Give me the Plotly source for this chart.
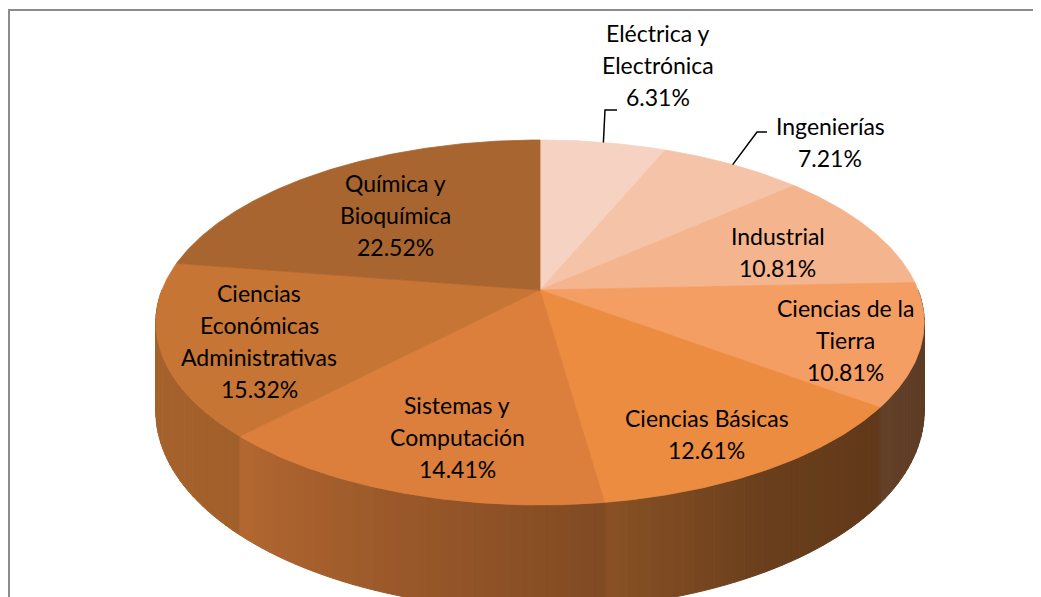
import numpy as np
import plotly.graph_objects as go

# ---------------- data ----------------
categories = ["Eléctrica y<br>Electrónica", "Ingenierías", "Industrial", "Ciencias de la<br>Tierra",
              "Ciencias Básicas", "Sistemas y<br>Computación",
              "Ciencias<br>Económicas<br>Administrativas", "Química y<br>Bioquímica"]
values = [6.31, 7.21, 10.81, 10.81, 12.61, 14.41, 15.32, 22.52]
colors = ["#F6D2C2", "#F5C3A7", "#F4B48D", "#F49E63", "#EC8C40", "#DC7F3C", "#C67535", "#A9652F"]

# ---------------- geometry / style ----------------
PAGE_W, PAGE_H = 1041, 597
OFF = 8                      # browser body margin
EXTRA = 30                   # let the figure run past the window edge
W, Hpx = PAGE_W - OFF + EXTRA, PAGE_H - OFF + EXTRA
CX, CY = 540.0, 290.0
RX, RY = 378.0, 176.7
K = 0.178          # perspective factor
DEPTH = 86.0       # side height
FONT = "Lato"
FS = 23
LINE_GAP = 32

# label placement: radius fraction and nudges (inside labels)
label_r = [None, None, 0.71, 0.81, 0.83, 0.77, 0.75, 0.60]
label_nudge = [(0, 0), (0, 0), (0, 7), (0, 6), (-17, 0), (20, -2), (0, 7), (-8, 0)]
# outside labels: text centers and leader bend/end points
outside = {
    0: dict(center=(658, 65), bend=(605, 110), end=(617, 110)),
    1: dict(center=(830, 142), bend=(757, 132), end=(767, 132)),
}


def proj(r, theta_deg, z=0.0):
    t = np.radians(theta_deg)
    c = r * np.sin(t)
    s = -r * np.cos(t)
    d = 1 - K * s
    return CX + RX * c / d, CY + (RY * s + DEPTH * z) / d


def hex2rgb(h):
    h = h.lstrip("#")
    return [int(h[i:i + 2], 16) for i in (0, 2, 4)]


def shade(h, f):
    r, g, b = hex2rgb(h)
    return "rgb(%d,%d,%d)" % (min(255, r * f), min(255, g * f), min(255, b * f))


def side_factor(theta):
    return float(np.interp(theta, [90, 115, 150, 175, 225, 250, 270],
                           [0.38, 0.39, 0.45, 0.60, 0.82, 0.84, 0.83]))


total = sum(values)
bounds = [0.0]
for v in values:
    bounds.append(bounds[-1] + v / total * 360.0)

fig = go.Figure()

# ---- side strips (front half), painter's order ----
strips = []
for i, (a0, a1) in enumerate(zip(bounds[:-1], bounds[1:])):
    lo, hi = max(a0, 90.0), min(a1, 270.0)
    if hi <= lo:
        continue
    n = max(1, int(np.ceil((hi - lo) / 1.5)))
    edges = np.linspace(lo, hi, n + 1)
    for t0, t1 in zip(edges[:-1], edges[1:]):
        tm = 0.5 * (t0 + t1)
        depth_key = -np.cos(np.radians(tm))
        strips.append((depth_key, i, t0, t1, tm))
strips.sort(key=lambda s: s[0])
for _, i, t0, t1, tm in strips:
    xa, ya = proj(1, t0, 0)
    xb, yb = proj(1, t1, 0)
    xc, yc = proj(1, t1, 1)
    xd, yd = proj(1, t0, 1)
    col = shade(colors[i], side_factor(tm))
    fig.add_trace(go.Scatter(x=[xa, xb, xc, xd, xa], y=[ya, yb, yc, yd, ya], mode="lines",
                             fill="toself", fillcolor=col, line=dict(color=col, width=1),
                             hoverinfo="skip", showlegend=False))

# ---- top face slices ----
for i, (a0, a1) in enumerate(zip(bounds[:-1], bounds[1:])):
    th = np.linspace(a0, a1, max(3, int((a1 - a0) / 0.5)))
    xs, ys = [CX], [CY]
    for t in th:
        x, y = proj(1, t)
        xs.append(x)
        ys.append(y)
    xs.append(CX)
    ys.append(CY)
    fig.add_trace(go.Scatter(x=xs, y=ys, mode="lines", fill="toself", fillcolor=colors[i],
                             line=dict(color=colors[i], width=0.8), hoverinfo="skip",
                             showlegend=False, name=categories[i].replace("<br>", " ")))

# ---- labels ----
annotations = []
for i, (a0, a1) in enumerate(zip(bounds[:-1], bounds[1:])):
    mid = 0.5 * (a0 + a1)
    lines = categories[i].split("<br>") + ["%.2f%%" % values[i]]
    if i in outside:
        cx, cy = outside[i]["center"]
        sx, sy = proj(1, mid)
        bx, by = outside[i]["bend"]
        ex, ey = outside[i]["end"]
        fig.add_trace(go.Scatter(x=[sx, bx, ex], y=[sy, by, ey], mode="lines",
                                 line=dict(color="black", width=1.5), hoverinfo="skip",
                                 showlegend=False))
    else:
        cx, cy = proj(label_r[i], mid)
        cx += label_nudge[i][0]
        cy += label_nudge[i][1]
    n = len(lines)
    for j, txt in enumerate(lines):
        annotations.append(dict(x=cx, y=cy + LINE_GAP * (j - (n - 1) / 2.0), text=txt,
                                showarrow=False, xref="x", yref="y",
                                font=dict(family=FONT, size=FS, color="black"),
                                xanchor="center", yanchor="middle"))

frame = dict(color="#8C8C8C", width=2)
fig.update_layout(
    width=W, height=Hpx, margin=dict(l=0, r=0, t=0, b=0),
    paper_bgcolor="white", plot_bgcolor="white",
    xaxis=dict(range=[OFF, OFF + W], visible=False, fixedrange=True),
    yaxis=dict(range=[OFF + Hpx, OFF], visible=False, fixedrange=True),
    annotations=annotations,
    shapes=[dict(type="line", xref="x", yref="y", x0=8, y0=10, x1=OFF + W, y1=10, line=frame),
            dict(type="line", xref="x", yref="y", x0=9, y0=9, x1=9, y1=OFF + Hpx, line=frame)],
    showlegend=False,
)

fig.write_html("out.html", config={"displayModeBar": False},
               post_script="document.documentElement.style.overflow='hidden';"
                           "document.body.style.overflow='hidden';")
